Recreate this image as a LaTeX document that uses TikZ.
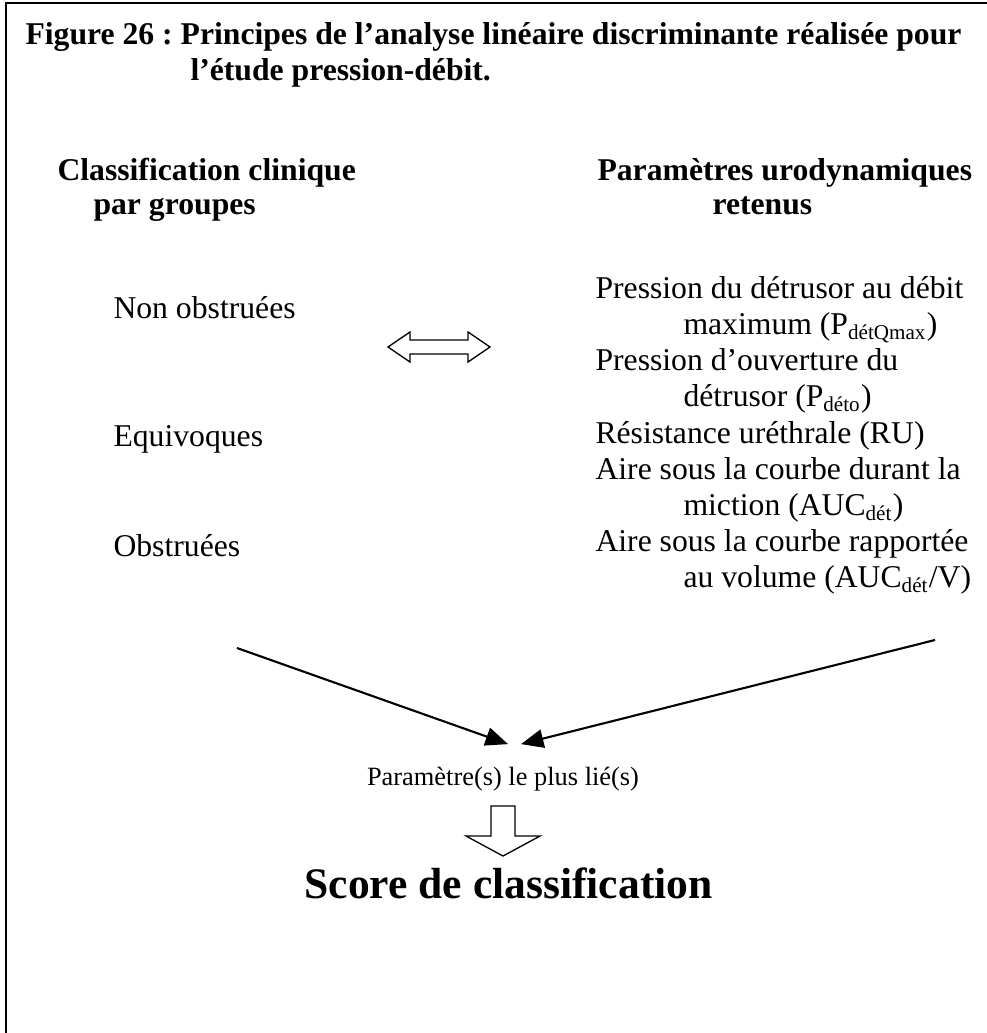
\documentclass[tikz,border=0pt]{standalone}
\usepackage{fontspec}
\setmainfont{Liberation Serif}
\usetikzlibrary{arrows.meta,calc}

\tikzset{
    texte/.style={anchor=base west,inner sep=0pt,font=\fontsize{12}{13.8}\selectfont},
    titre/.style={texte,font=\fontsize{12}{13.8}\selectfont\bfseries},
    petit/.style={texte,font=\fontsize{10}{11.5}\selectfont},
    resultat/.style={texte,font=\fontsize{16.5}{19}\selectfont\bfseries},
    fleche/.style={line width=0.8pt,-{Triangle[length=8.5pt,width=7pt]}},
    creux/.style={line width=0.5pt,line join=miter},
}

\begin{document}
\frenchspacing
\begin{tikzpicture}[x=0.3788pt,y=-0.3788pt]
        \useasboundingbox (0,0) rectangle (987,1033);
        \draw[line width=0.8pt] (987,3) -- (6,3) -- (6,1033);
        \node[titre] (titre1) at (25,44) {Figure 26 : Principes de l’analyse linéaire discriminante réalisée pour};
        \node[titre] (titre2) at (190,80) {l’étude pression-débit.};
        \node[titre] (clin1) at (57,180) {Classification clinique};
        \node[titre] (clin2) at (93,214) {par groupes};
        \node[titre] (param1) at (597,180) {Paramètres urodynamiques};
        \node[titre] (param2) at (712,214) {retenus};
        \node[texte] (grp1) at (113,318) {Non obstruées};
        \node[texte] (grp2) at (113,446) {Equivoques};
        \node[texte] (grp3) at (113,556) {Obstruées};
        \foreach \x/\txt [count=\i] in {595/{Pression du détrusor au débit},
            683/{maximum (P\textsubscript{détQmax})},
            595/{Pression d’ouverture du},
            683/{détrusor (P\textsubscript{déto})},
            595/{Résistance uréthrale (RU)},
            595/{Aire sous la courbe durant la},
            683/{miction (AUC\textsubscript{dét})},
            595/{Aire sous la courbe rapportée},
            683/{au volume (AUC\textsubscript{dét}/V)}}{
            \node[texte] (p\i) at (\x,{262+36.2*\i}) {\txt};
        }
        \coordinate (dbl) at (388,347);
        \draw[creux] (dbl) -- ++(22,-15) -- ++(0,8) -- ++(58,0) -- ++(0,-8) -- ++(22,15)
            -- ++(-22,15) -- ++(0,-8) -- ++(-58,0) -- ++(0,8) -- cycle;
        \node[petit,anchor=base] (lie) at (503,785) {Paramètre(s) le plus lié(s)};
        \coordinate (depG) at (237,648);
        \coordinate (depD) at (935,640);
        \draw[fleche] (depG) -- ($(lie.north)+(5,-22)$);
        \draw[fleche] (depD) -- ($(lie.north)+(18,-22)$);
        \coordinate (bloc) at (503,806);
        \draw[creux] (bloc) ++(-12,0) -- ++(24,0) -- ++(0,30) -- ++(25,0) -- ++(-37,20)
            -- ++(-37,-20) -- ++(25,0) -- cycle;
        \node[resultat] (score) at (304,898) {Score de classification};
    \end{tikzpicture}
\end{document}
